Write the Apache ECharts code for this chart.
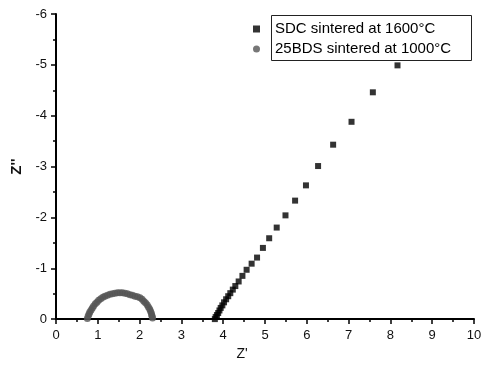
<!DOCTYPE html>
<html>
<head>
<meta charset="utf-8">
<script src="https://cdn.jsdelivr.net/npm/echarts@6/dist/echarts.min.js"></script>
<style>
  html, body { margin: 0; padding: 0; background: #fff; }
  #chart { width: 485px; height: 366px; }
</style>
</head>
<body>
<div id="chart"></div>
<script>
// SDC sintered at 1600°C  -> [Z', Z'']
var sdcX = [3.80, 3.82, 3.85, 3.88, 3.91, 3.94, 3.98, 4.02, 4.07, 4.12, 4.17, 4.23, 4.29, 4.37,
            4.46, 4.56, 4.68, 4.81, 4.95, 5.10, 5.28, 5.49, 5.72, 5.98, 6.27, 6.63, 7.07, 7.58, 8.17];
var sdcY = [-0.00, -0.04, -0.08, -0.12, -0.17, -0.22, -0.27, -0.33, -0.39, -0.45, -0.51, -0.58, -0.65, -0.74,
            -0.85, -0.97, -1.09, -1.21, -1.40, -1.59, -1.80, -2.04, -2.33, -2.63, -3.01, -3.43, -3.88, -4.46, -4.99];

// 25BDS sintered at 1000°C
var bdsX = [0.75, 0.77, 0.79, 0.81, 0.84, 0.87, 0.90, 0.94, 0.98, 1.02, 1.07, 1.12, 1.17, 1.23, 1.29,
            1.35, 1.41, 1.47, 1.53, 1.59, 1.65, 1.71, 1.77, 1.83, 1.89, 1.95, 2.01, 2.06, 2.10, 2.14,
            2.18, 2.21, 2.24, 2.26, 2.28, 2.29, 2.30, 2.31];
var bdsY = [-0.01, -0.06, -0.10, -0.14, -0.18, -0.22, -0.26, -0.30, -0.33, -0.37, -0.40, -0.43, -0.45, -0.47, -0.49,
            -0.50, -0.51, -0.52, -0.52, -0.52, -0.51, -0.50, -0.48, -0.47, -0.45, -0.44, -0.42, -0.39, -0.35, -0.32,
            -0.28, -0.24, -0.20, -0.16, -0.12, -0.08, -0.05, -0.02];

var seriesNames = ['SDC sintered at 1600°C', '25BDS sintered at 1000°C'];

function pairs(xs, ys) {
  return xs.map(function (x, i) { return [x, ys[i]]; });
}

var myChart = echarts.init(document.getElementById('chart'), null, { renderer: 'canvas' });

var font = 'Liberation Sans, Arial, sans-serif';
var axisText = { color: '#111', fontSize: 13, fontFamily: font };

var option = {
  animation: false,
  backgroundColor: '#fff',
  grid: { left: 56, right: 11, top: 14, bottom: 44, containLabel: false },
  // legend frame (the symbols sit just outside it, like the original)
  graphic: [{
    type: 'rect',
    left: 271,
    top: 15,
    shape: { width: 200, height: 45 },
    style: { fill: '#fff', stroke: '#222', lineWidth: 1 },
    z: 90
  }],
  legend: {
    orient: 'vertical',
    left: 253,
    top: 21,
    padding: 0,
    itemGap: 4,
    itemWidth: 7,
    itemHeight: 7,
    z: 100,
    textStyle: { color: '#000', fontSize: 15, lineHeight: 16, fontFamily: font, padding: [0, 0, 0, 10] },
    data: [
      { name: seriesNames[0], icon: 'rect' },
      { name: seriesNames[1], icon: 'circle' }
    ]
  },
  xAxis: {
    type: 'value',
    min: 0,
    max: 10,
    interval: 1,
    name: "Z'",
    nameLocation: 'middle',
    nameGap: 18,
    nameTextStyle: { color: '#111', fontSize: 14, fontFamily: font, padding: [0, 46, 0, 0] },
    axisLine: { show: true, onZero: false, lineStyle: { color: '#000', width: 2 } },
    axisTick: { show: true, length: 5, lineStyle: { color: '#000', width: 1.5 } },
    minorTick: { show: true, splitNumber: 2, length: 3, lineStyle: { color: '#000', width: 1.5 } },
    axisLabel: Object.assign({ margin: 10 }, axisText),
    splitLine: { show: false }
  },
  yAxis: {
    type: 'value',
    inverse: true,
    min: -6,
    max: 0,
    interval: 1,
    name: "Z''",
    nameLocation: 'middle',
    nameRotate: 90,
    nameGap: 25,
    nameTextStyle: { color: '#111', fontSize: 15, fontWeight: 'bold', fontFamily: font },
    axisLine: { show: true, onZero: false, lineStyle: { color: '#000', width: 2 } },
    axisTick: { show: true, length: 5, lineStyle: { color: '#000', width: 1.5 } },
    minorTick: { show: true, splitNumber: 2, length: 3, lineStyle: { color: '#000', width: 1.5 } },
    axisLabel: Object.assign({ margin: 9 }, axisText),
    splitLine: { show: false }
  },
  series: [
    {
      name: seriesNames[0],
      type: 'scatter',
      symbol: 'rect',
      symbolSize: 6,
      itemStyle: { color: '#000' },
      data: pairs(sdcX, sdcY)
    },
    {
      name: seriesNames[1],
      type: 'scatter',
      symbol: 'circle',
      symbolSize: 7,
      itemStyle: { color: '#555' },
      data: pairs(bdsX, bdsY)
    }
  ]
};

myChart.setOption(option);
</script>
</body>
</html>
